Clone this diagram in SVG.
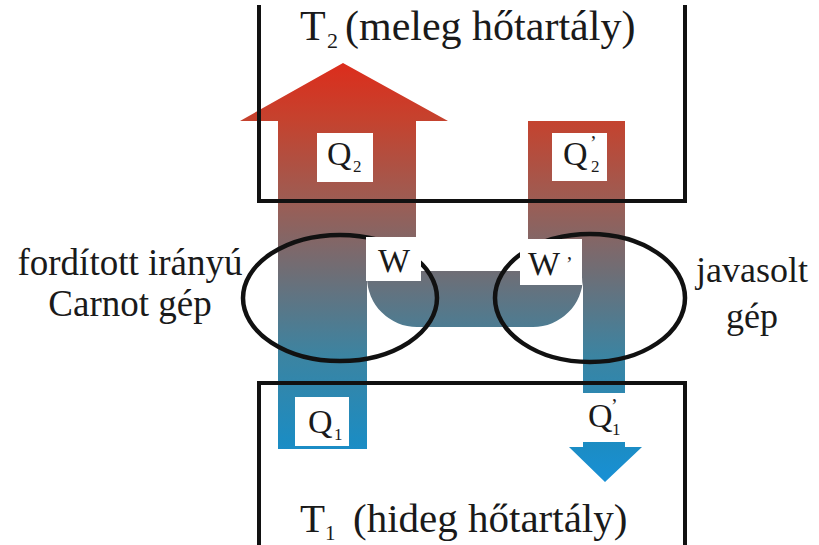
<svg xmlns="http://www.w3.org/2000/svg" width="819" height="545" viewBox="0 0 819 545">
  <style>
    .t { font-family: "Liberation Serif", "Times New Roman", serif; fill: #1a1a1a; }
    .box { fill: none; stroke: #111; stroke-width: 4; }
    .ell { fill: none; stroke: #111; stroke-width: 4.5; }
    .lab { fill: #fff; }
    .flow { fill: url(#heat); }
  </style>
  <defs>
    <linearGradient id="heat" gradientUnits="userSpaceOnUse" x1="0" y1="63" x2="0" y2="483">
      <stop offset="0" stop-color="#dc2d1c"/>
      <stop offset="0.14" stop-color="#c4432f"/>
      <stop offset="0.33" stop-color="#9c5d54"/>
      <stop offset="0.5" stop-color="#6e6e76"/>
      <stop offset="0.7" stop-color="#3b84a2"/>
      <stop offset="0.9" stop-color="#1c8cc2"/>
      <stop offset="1" stop-color="#1890d6"/>
    </linearGradient>
  </defs>
  <rect width="819" height="545" fill="#fff"/>

  <g id="connectors">
    <path class="flow" d="M240,121 L343,63 L448,121 L416,121 L416,271 L528,271 L528,121 L625,121 L625,393 L583,393 L583,277 A50,50 0 0 1 533,327 L417,327 A50,50 0 0 1 367,277 L367,449 L278,449 L278,121 Z"/>
    <path class="flow" d="M583,442 L625,442 L625,447 L642,447 L605,482 L569,447 L583,447 Z"/>
  </g>

  <g id="hot-reservoir">
    <path class="box" d="M259,5 L259,201 L685,201 L685,5"/>
    <text class="t" x="300" y="40" font-size="42">T<tspan x="327" y="48" font-size="22">2</tspan><tspan x="345" y="40">(meleg hőtartály)</tspan></text>
  </g>

  <g id="cold-reservoir">
    <path class="box" d="M259,545 L259,383 L685,383 L685,545"/>
    <text class="t" x="300" y="532" font-size="41">T<tspan x="325" y="540" font-size="21">1</tspan><tspan x="353" y="532">(hideg hőtartály)</tspan></text>
  </g>

  <g id="carnot-engine">
    <ellipse class="ell" cx="340" cy="298" rx="97" ry="63"/>
    <text class="t" x="130" y="275" font-size="37" text-anchor="middle">fordított irányú</text>
    <text class="t" x="130" y="316" font-size="37" text-anchor="middle">Carnot gép</text>
  </g>

  <g id="proposed-engine">
    <ellipse class="ell" cx="590" cy="298" rx="95" ry="64"/>
    <text class="t" x="752" y="282" font-size="36" text-anchor="middle">javasolt</text>
    <text class="t" x="752" y="328" font-size="36" text-anchor="middle">gép</text>
  </g>

  <g id="label-Q2">
    <rect class="lab" x="317" y="133" width="56" height="49"/>
    <text class="t" x="327" y="165" font-size="34">Q<tspan x="353" y="172" font-size="17">2</tspan></text>
  </g>
  <g id="label-Q2p">
    <rect class="lab" x="552" y="133" width="55" height="48"/>
    <text class="t" x="563" y="165" font-size="34">Q<tspan x="590" y="150" font-size="20">’</tspan><tspan x="591" y="172" font-size="17">2</tspan></text>
  </g>
  <g id="label-W">
    <rect class="lab" x="366" y="237" width="55" height="44"/>
    <text class="t" x="378" y="272" font-size="34">W</text>
  </g>
  <g id="label-Wp">
    <rect class="lab" x="520" y="239" width="62" height="46"/>
    <text class="t" x="528" y="275" font-size="34">W<tspan x="566" y="271" font-size="20">’</tspan></text>
  </g>
  <g id="label-Q1">
    <rect class="lab" x="295" y="397" width="54" height="49"/>
    <text class="t" x="308" y="433" font-size="34">Q<tspan x="334" y="440" font-size="17">1</tspan></text>
  </g>
  <g id="label-Q1p">
    <text class="t" x="588" y="427" font-size="34">Q<tspan x="611" y="413" font-size="20">’</tspan><tspan x="612" y="435" font-size="17">1</tspan></text>
  </g>
</svg>
